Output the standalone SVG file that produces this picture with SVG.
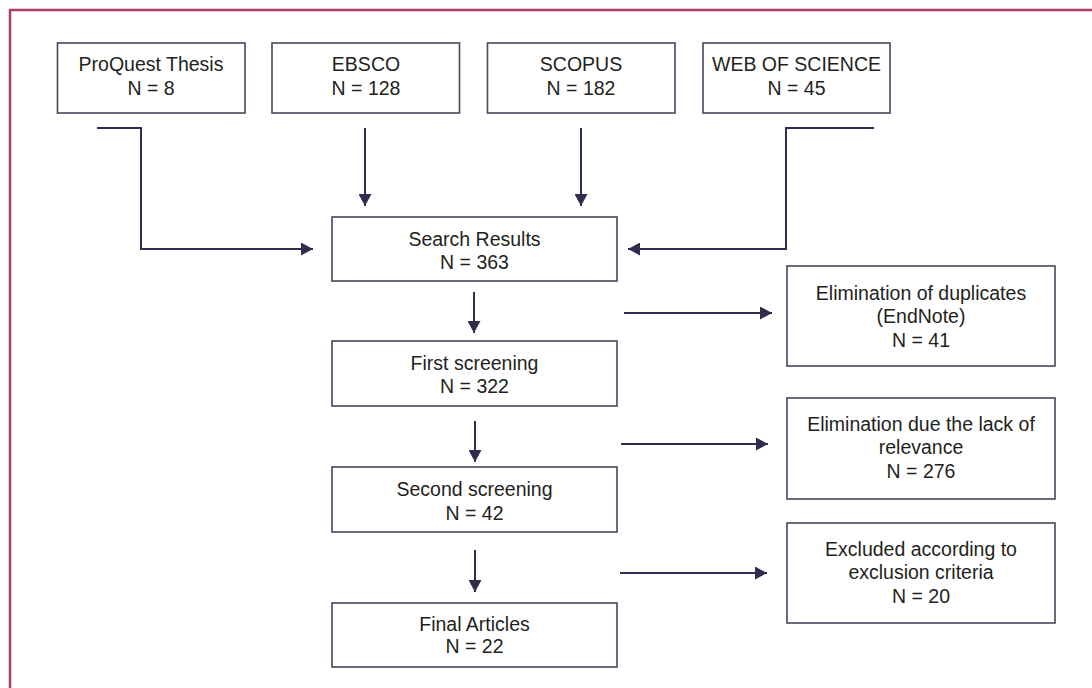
<svg xmlns="http://www.w3.org/2000/svg" width="1092" height="688" viewBox="0 0 1092 688">
<style>
.box{fill:#fff;stroke:#47465f;stroke-width:1.6}
.t{font-family:"Liberation Sans",Arial,sans-serif;font-size:19.5px;fill:#231f20;text-anchor:middle}
.c{fill:none;stroke:#2f2e4f;stroke-width:2}
</style>
<defs>
<marker id="ah" markerWidth="12" markerHeight="13" refX="12" refY="6.5" orient="auto" markerUnits="userSpaceOnUse">
<path d="M0,0 L12,6.5 L0,13 Z" fill="#2f2e4f"/>
</marker>
</defs>
<rect width="1092" height="688" fill="#fff"/>
<path d="M10,688 L10,10 L1092,10" fill="none" stroke="#b03c62" stroke-width="2.5"/>
<g id="n-proquest"><rect class="box" x="57.5" y="43" width="187.5" height="70"/><text class="t" x="151" y="71">ProQuest Thesis</text><text class="t" x="151" y="95">N = 8</text></g>
<g id="n-ebsco"><rect class="box" x="272" y="43" width="187.5" height="70"/><text class="t" x="366" y="71">EBSCO</text><text class="t" x="366" y="95">N = 128</text></g>
<g id="n-scopus"><rect class="box" x="487.5" y="43" width="187.5" height="70"/><text class="t" x="581" y="71">SCOPUS</text><text class="t" x="581" y="95">N = 182</text></g>
<g id="n-wos"><rect class="box" x="703" y="43" width="187" height="70"/><text class="t" x="796.5" y="71">WEB OF SCIENCE</text><text class="t" x="796.5" y="95">N = 45</text></g>
<g id="n-search"><rect class="box" x="332" y="217" width="285" height="64"/><text class="t" x="474.5" y="246">Search Results</text><text class="t" x="474.5" y="269">N = 363</text></g>
<g id="n-first"><rect class="box" x="332" y="341" width="285" height="65"/><text class="t" x="474.5" y="370">First screening</text><text class="t" x="474.5" y="393">N = 322</text></g>
<g id="n-second"><rect class="box" x="332" y="467" width="285" height="65"/><text class="t" x="474.5" y="496">Second screening</text><text class="t" x="474.5" y="520">N = 42</text></g>
<g id="n-final"><rect class="box" x="332" y="603" width="285" height="64"/><text class="t" x="474.5" y="631">Final Articles</text><text class="t" x="474.5" y="653">N = 22</text></g>
<g id="n-dup"><rect class="box" x="787" y="266" width="268" height="100"/><text class="t" x="921" y="300">Elimination of duplicates</text><text class="t" x="921" y="323">(EndNote)</text><text class="t" x="921" y="347">N = 41</text></g>
<g id="n-rel"><rect class="box" x="787" y="398" width="268" height="101"/><text class="t" x="921" y="431">Elimination due the lack of</text><text class="t" x="921" y="454">relevance</text><text class="t" x="921" y="478">N = 276</text></g>
<g id="n-excl"><rect class="box" x="787" y="523" width="268" height="100"/><text class="t" x="921" y="556">Excluded according to</text><text class="t" x="921" y="579">exclusion criteria</text><text class="t" x="921" y="603">N = 20</text></g>
<g id="connectors">
<path class="c" d="M97,128 H141 V249 H313" marker-end="url(#ah)"/>
<path class="c" d="M365,128 V206" marker-end="url(#ah)"/>
<path class="c" d="M581,128 V206" marker-end="url(#ah)"/>
<path class="c" d="M874,128 H786 V249 H628" marker-end="url(#ah)"/>
<path class="c" d="M474,292 V333" marker-end="url(#ah)"/>
<path class="c" d="M624,313 H772" marker-end="url(#ah)"/>
<path class="c" d="M475,421 V462" marker-end="url(#ah)"/>
<path class="c" d="M621,444 H768" marker-end="url(#ah)"/>
<path class="c" d="M475,550 V592" marker-end="url(#ah)"/>
<path class="c" d="M620,573 H767" marker-end="url(#ah)"/>
</g>
</svg>
